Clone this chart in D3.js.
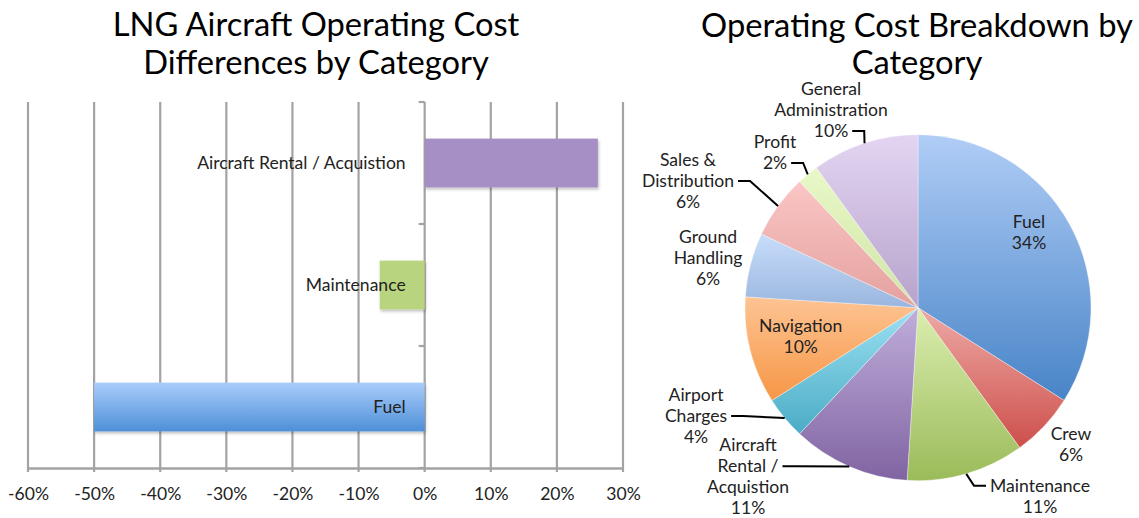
<!DOCTYPE html>
<html><head><meta charset="utf-8">
<script src="https://cdn.jsdelivr.net/npm/d3@7"></script>
<style>body{margin:0;background:#fff} svg{display:block}</style>
</head><body>
<svg id="c" width="1139" height="518"></svg>
<script>
// ---------- data ----------
const barTitle = ["LNG Aircraft Operating Cost", "Differences by Category"];
const barCategories = ["Fuel", "Maintenance", "Aircraft Rental / Acquistion"];
const barValues = [-0.50, -0.068, 0.262];
const xTickValues = [-0.6, -0.5, -0.4, -0.3, -0.2, -0.1, 0, 0.1, 0.2, 0.3];

const pieTitle = ["Operating Cost Breakdown by", "Category"];
const pieCategories = ["Fuel", "Crew", "Maintenance", "Aircraft Rental / Acquistion", "Airport Charges",
  "Navigation", "Ground Handling", "Sales & Distribution", "Profit", "General Administration"];
const pieValues = [34, 6, 11, 11, 4, 10, 6, 6, 2, 10];
const pieLabelLines = [["Fuel"], ["Crew"], ["Maintenance"], ["Aircraft", "Rental /", "Acquistion"],
  ["Airport", "Charges"], ["Navigation"], ["Ground", "Handling"], ["Sales &", "Distribution"],
  ["Profit"], ["General", "Administration"]];

// ---------- styles / layout ----------
const FONT = "Lato, 'Open Sans', sans-serif";
const barColors = [["#a9cdfb", "#4e8fd8"], ["#b9d47e", "#b9d47e"], ["#a68fc5", "#a68fc5"]];
const pieColors = [["#b0cdf6", "#4884c7"], ["#eeaaa6", "#cd4f4b"], ["#dbeeb0", "#9bbb59"], ["#c0aedb", "#8064a2"],
  ["#9ce0f2", "#4aacc5"], ["#fdc493", "#f79646"], ["#c8ddfb", "#9ab6de"], ["#fac6c5", "#e4a19e"],
  ["#e9f8c8", "#cfe4a6"], ["#e3d5f2", "#b7a3cb"]];
// label block position relative to pie centre: [dx, dy of first line, leader attach line, side]
const pieLabelLayout = [
  [111, -85.7, null, null], [153, 126.3, null, null], [122, 178, 0, "left"], [-170, 137.5, 1, "right"],
  [-222, 87.3, 1, "right"], [-117.3, 18.3, null, null], [-210, -70.7, null, null], [-230, -147.7, 1, "right"],
  [-143, -165.7, 1, "right"], [-87, -218.7, 2, "right"]];

const svg = d3.select("#c");
const defs = svg.append("defs");

// measure helper to fit the font to the reference widths
function measure(str, size) {
  const t = svg.append("text").attr("font-family", FONT).attr("font-size", size).text(str);
  const w = t.node().getComputedTextLength(); t.remove(); return w;
}
const smallSize = 16 * 100 / measure("Maintenance", 16);
const titleSize = 29 * 432 / measure("Operating Cost Breakdown by", 29);
const lineH = 21;

// shadow filter
const f = defs.append("filter").attr("id", "sh").attr("x", "-10%").attr("y", "-20%").attr("width", "130%").attr("height", "160%");
f.append("feDropShadow").attr("dx", 1).attr("dy", 2).attr("stdDeviation", 1.5).attr("flood-color", "#000").attr("flood-opacity", 0.25);

function grad(id, c) {
  const g = defs.append("linearGradient").attr("id", id).attr("x1", 0).attr("y1", 0).attr("x2", 0).attr("y2", 1);
  g.append("stop").attr("offset", "0%").attr("stop-color", c[0]);
  g.append("stop").attr("offset", "100%").attr("stop-color", c[1]);
  return `url(#${id})`;
}

// ---------- bar chart ----------
const x = d3.scaleLinear().domain([-0.6, 0.3]).range([28, 623]);
const y = d3.scaleBand().domain(barCategories).range([468, 102]).paddingInner(0.6).paddingOuter(0.3);
const yTop = 102, yBot = 468;

svg.append("g").selectAll("text").data(barTitle).join("text")
  .attr("x", 316).attr("y", (d, i) => 36 + i * 38).attr("text-anchor", "middle")
  .attr("font-family", FONT).attr("font-size", titleSize).attr("fill", "#000").text(d => d);

const grid = svg.append("g");
grid.selectAll("line").data(xTickValues).join("line")
  .attr("x1", d => x(d)).attr("x2", d => x(d)).attr("y1", yTop).attr("y2", yBot + 4)
  .attr("stroke", "#a3a3a3").attr("stroke-width", 2.2);
// y-axis ticks at band boundaries
const bounds = [yTop, yTop + y.step(), yTop + 2 * y.step(), yBot];
grid.selectAll("line.yt").data(bounds).join("line").attr("class", "yt")
  .attr("x1", x(0) - 6).attr("x2", x(0)).attr("y1", d => d).attr("y2", d => d)
  .attr("stroke", "#a3a3a3").attr("stroke-width", 2.2);

const xAxis = svg.append("g").attr("transform", `translate(0,${yBot})`)
  .call(d3.axisBottom(x).tickValues(xTickValues).tickSize(0).tickPadding(20)
    .tickFormat(d => Math.round(d * 100) + "%"));
xAxis.select(".domain").attr("stroke", "#a3a3a3").attr("stroke-width", 2.6);
xAxis.selectAll("text").attr("font-family", FONT).attr("font-size", smallSize).attr("fill", "#222");

svg.append("g").selectAll("rect").data(barValues).join("rect")
  .attr("x", d => x(Math.min(0, d))).attr("width", d => Math.abs(x(d) - x(0)))
  .attr("y", (d, i) => y(barCategories[i])).attr("height", y.bandwidth())
  .attr("fill", (d, i) => grad("bg" + i, barColors[i])).attr("filter", "url(#sh)");

svg.append("g").selectAll("text").data(barCategories).join("text")
  .attr("x", x(0) - 19).attr("y", d => y(d) + y.bandwidth() / 2).attr("dy", "0.35em")
  .attr("text-anchor", "end").attr("font-family", FONT).attr("font-size", smallSize).attr("fill", "#222")
  .text(d => d);

// ---------- pie chart ----------
const cx = 918, cy = 307.7, R = 173;
svg.append("g").selectAll("text").data(pieTitle).join("text")
  .attr("x", 917).attr("y", (d, i) => 37 + i * 37).attr("text-anchor", "middle")
  .attr("font-family", FONT).attr("font-size", titleSize).attr("fill", "#000").text(d => d);

const pie = d3.pie().sort(null).value(d => d)(pieValues);
const arc = d3.arc().innerRadius(0).outerRadius(R);
const edgeArc = d3.arc().innerRadius(R).outerRadius(R);
const pg = svg.append("g").attr("transform", `translate(${cx},${cy})`);
pg.selectAll("path").data(pie).join("path")
  .attr("d", arc).attr("fill", (d, i) => grad("pg" + i, pieColors[i]))
  .attr("stroke", "#ffffff").attr("stroke-opacity", 0.6).attr("stroke-width", 0.6);

const labels = pg.append("g");
pie.forEach((p, i) => {
  const [lx, ly, attach, side] = pieLabelLayout[i];
  const lines = pieLabelLines[i].concat([pieValues[i] + "%"]);
  const t = labels.append("text").attr("font-family", FONT).attr("font-size", smallSize)
    .attr("fill", "#222").attr("text-anchor", "middle");
  const spans = lines.map((ln, k) => t.append("tspan").attr("x", lx).attr("y", ly + k * lineH)
    .attr("dy", "0.35em").text(ln));
  if (attach !== null) {
    const w = spans[attach].node().getComputedTextLength();
    const ey = ly + attach * lineH;
    const ex = side === "right" ? lx + w / 2 + 4 : lx - w / 2 - 4;
    const elx = side === "right" ? ex + 12 : ex - 12;
    const [sx, sy] = edgeArc.centroid(p);
    labels.insert("polyline", "text").attr("points", [[ex, ey], [elx, ey], [sx, sy]].map(q => q.join(",")).join(" "))
      .attr("fill", "none").attr("stroke", "#000").attr("stroke-width", 2);
  }
});
</script>
</body></html>
